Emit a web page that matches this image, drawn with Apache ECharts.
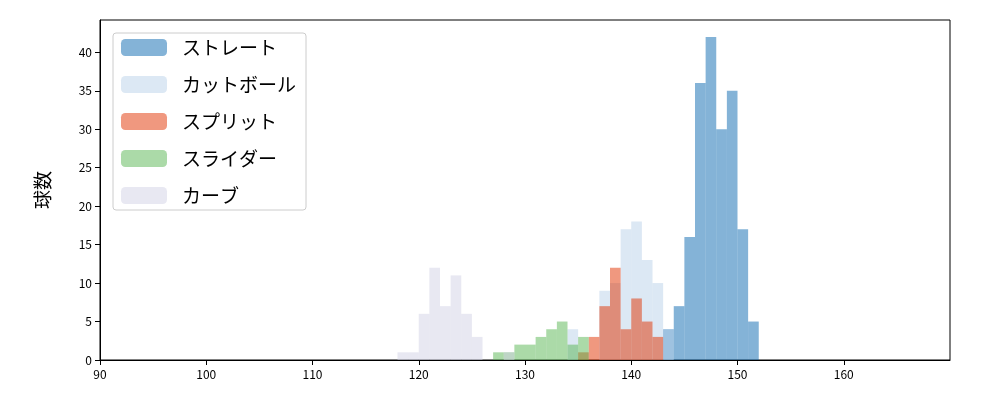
<!DOCTYPE html>
<html><head><meta charset="utf-8">
<script src="https://cdn.jsdelivr.net/npm/echarts@6/dist/echarts.min.js"></script>
<style>body{margin:0}#c{width:1000px;height:400px}</style></head>
<body><div id="c"></div>
<script>
// bin start (km/h), each bin 1 km/h wide
var straightBins = [143, 144, 145, 146, 147, 148, 149, 150, 151];
var straightCounts = [4, 7, 16, 36, 42, 30, 35, 17, 5];
var cutBins = [134, 137, 138, 139, 140, 141, 142, 143];
var cutCounts = [4, 9, 10, 17, 18, 13, 10, 4];
var splitBins = [135, 136, 137, 138, 139, 140, 141, 142];
var splitCounts = [1, 3, 7, 12, 4, 8, 5, 3];
var sliderBins = [127, 128, 129, 130, 131, 132, 133, 134, 135];
var sliderCounts = [1, 1, 2, 2, 3, 4, 5, 2, 3];
var curveBins = [118, 119, 120, 121, 122, 123, 124, 125, 128];
var curveCounts = [1, 1, 6, 12, 7, 11, 6, 3, 1];

var names = ['ストレート', 'カットボール', 'スプリット', 'スライダー', 'カーブ'];
var colors = ['#0967af', '#b9d1e9', '#e13100', '#57b551', '#d1d1e5'];
var bins = [straightBins, cutBins, splitBins, sliderBins, curveBins];
var counts = [straightCounts, cutCounts, splitCounts, sliderCounts, curveCounts];

function renderBar(params, api) {
  var x0 = api.value(0), h = api.value(1);
  var p0 = api.coord([x0, h]);
  var p1 = api.coord([x0 + 1, 0]);
  return {
    type: 'rect',
    shape: { x: p0[0], y: p0[1], width: p1[0] - p0[0], height: p1[1] - p0[1] },
    style: { fill: api.visual('color'), opacity: 0.5 }
  };
}

var chart = echarts.init(document.getElementById('c'));
var series = names.map(function (n, i) {
  return {
    name: n,
    type: 'custom',
    renderItem: renderBar,
    itemStyle: { color: colors[i], opacity: 0.5 },
    encode: { x: 0, y: 1 },
    data: bins[i].map(function (b, j) { return [b, counts[i][j]]; })
  };
});

chart.setOption({
  animation: false,
  textStyle: { fontFamily: 'Noto Sans CJK JP' },
  grid: { left: 100, right: 50, top: 20, bottom: 40 },
  legend: {
    orient: 'vertical', left: 113, top: 33,
    itemWidth: 46, itemHeight: 17, itemGap: 18,
    padding: [5, 10, 5, 8],
    borderColor: '#ccc', borderWidth: 1, borderRadius: 3,
    textStyle: { fontSize: 19, color: '#000', padding: [0, 0, 0, 10] },
    data: names.map(function (n, i) { return { name: n, itemStyle: { color: colors[i], opacity: 0.5 } }; })
  },
  xAxis: {
    type: 'value', min: 90, max: 170, interval: 10,
    axisLine: { lineStyle: { color: '#000' } },
    axisTick: { show: true, length: 5, lineStyle: { color: '#000' } },
    axisLabel: { color: '#000', fontSize: 12, showMaxLabel: false },
    splitLine: { show: false }
  },
  yAxis: {
    type: 'value', min: 0, max: 44.2, interval: 5,
    name: '球数', nameLocation: 'middle', nameGap: 48,
    nameTextStyle: { fontSize: 19, color: '#000' },
    axisLine: { show: true, lineStyle: { color: '#000' } },
    axisTick: { show: true, length: 5, lineStyle: { color: '#000' } },
    axisLabel: { color: '#000', fontSize: 12, showMaxLabel: false },
    splitLine: { show: false }
  },
  graphic: [{
    type: 'rect', shape: { x: 100, y: 20, width: 850, height: 340 },
    style: { fill: 'none', stroke: '#000', lineWidth: 1 }, silent: true
  }],
  series: series
});
</script></body></html>
